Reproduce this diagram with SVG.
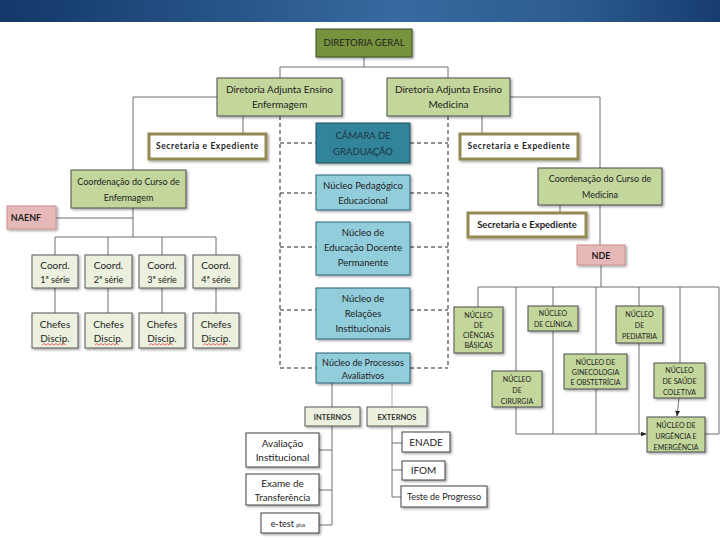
<svg xmlns="http://www.w3.org/2000/svg" width="720" height="540" viewBox="0 0 720 540">
<defs>
<linearGradient id="hdr" x1="0" y1="0" x2="1" y2="0">
<stop offset="0" stop-color="#133769"/>
<stop offset="0.55" stop-color="#376a9f"/>
<stop offset="0.8" stop-color="#2c5b8f"/>
<stop offset="1" stop-color="#173c70"/>
</linearGradient>
<filter id="sh" x="-10%" y="-10%" width="130%" height="140%">
<feDropShadow dx="1.5" dy="1.5" stdDeviation="0.8" flood-color="#000" flood-opacity="0.35"/>
</filter>
<marker id="arr" viewBox="0 0 10 10" refX="9" refY="5" markerWidth="6" markerHeight="6" orient="auto">
<path d="M0,1 L10,5 L0,9 z" fill="#222"/>
</marker>
</defs>
<style>
text{font-family:Lato,"Liberation Sans",sans-serif;fill:#222;text-anchor:middle}
.dg{fill:#77933c;stroke:#3b4a1e;stroke-width:1}
.g{fill:#c3d69b;stroke:#4d4d4d;stroke-width:1}
.lg{fill:#ebf1de;stroke:#595959;stroke-width:1}
.sec{fill:#fff;stroke:#938953;stroke-width:3}
.pk{fill:#e6b9b8;stroke:#c9908e;stroke-width:1}
.cam{fill:#31849b;stroke:#1f4f5e;stroke-width:1}
.bl{fill:#92cddc;stroke:#2d6577;stroke-width:1}
.wh{fill:#fff;stroke:#404040;stroke-width:1}
.t9{font-size:9px}
.t95{font-size:9.5px}
.t10{font-size:10px}
.t7{font-size:7px}
.b{font-weight:bold}
.secs{font-size:8.5px;font-weight:bold;letter-spacing:0.6px}
.ln{fill:none;stroke:#6f6f6f;stroke-width:1}
.ln2{fill:none;stroke:#b0b0b0;stroke-width:1}
.ds{fill:none;stroke:#222;stroke-width:1;stroke-dasharray:4 3}
.sq{fill:none;stroke:#e03030;stroke-width:0.7}
</style>
<rect x="0" y="0" width="720" height="22" fill="url(#hdr)"/>

<g id="connectors">
<path class="ln" d="M364,57 V67 M280,67 H448 M280,67 V78 M448,67 V78"/>
<path class="ln" d="M217,97 H133 V170 M243,116 V133"/>
<path class="ln" d="M510,97 H600 V168 M482,116 V133"/>
<path class="ln" d="M133,208 V237 M56,218 H133 M55,237 H216 M55,237 V255 M108,237 V255 M162,237 V255 M216,237 V255"/>
<path class="ln" d="M55,288 V313 M108,288 V313 M162,288 V313 M216,288 V313"/>
<path class="ln" d="M600,205 V245 M560,205 V212 M601,265 V287"/>
<path class="ln" d="M478,287 H719 M478,287 V307 M516,287 V371 M516,407 V434 M553,287 V434 M596,287 V434 M639,287 V434 M680,287 V363 M719,287 V434 H705"/>
<path class="ln" d="M516,434 H646" marker-end="url(#arr)"/>
<path class="ln" d="M679,398 L677,416" marker-end="url(#arr)"/>
<path class="ds" d="M280,116 V368 M448,116 V368 M280,143 H316 M410,143 H448 M280,193 H316 M410,193 H448 M280,247 H316 M410,247 H448 M280,310 H316 M410,310 H448 M280,368 H316 M410,368 H448"/>
<path class="ln" d="M332,383 V407 M332,426 V525 M319,450 H332 M319,490 H332 M319,525 H332"/>
<path class="ln2" d="M392,383 V407"/>
<path class="ln" d="M392,427 V497 M392,443 H402 M392,470 H402 M392,497 H401"/>
</g>

<g id="diretoria-geral"><rect class="dg" x="316" y="29" width="96" height="28" filter="url(#sh)"/><text class="t95" x="364" y="46">DIRETORIA GERAL</text></g>
<g id="dae-enf"><rect class="g" x="217" y="78" width="125" height="38" filter="url(#sh)"/><text class="t10" x="279.5" y="93">Diretoria Adjunta Ensino</text><text class="t10" x="279.5" y="108">Enfermagem</text></g>
<g id="dae-med"><rect class="g" x="387" y="78" width="123" height="38" filter="url(#sh)"/><text class="t10" x="448.5" y="93">Diretoria Adjunta Ensino</text><text class="t10" x="448.5" y="108">Medicina</text></g>
<g id="sec-enf"><rect class="sec" x="149" y="134" width="117" height="25" filter="url(#sh)"/><text class="secs" x="207.5" y="149">Secretaria e Expediente</text></g>
<g id="sec-med1"><rect class="sec" x="460" y="134" width="118" height="25" filter="url(#sh)"/><text class="secs" x="519" y="149">Secretaria e Expediente</text></g>

<g id="coord-enf"><rect class="g" x="71" y="170" width="115" height="38" filter="url(#sh)"/><text class="t9" x="128.5" y="185">Coordenação do Curso de</text><text class="t9" x="128.5" y="201">Enfermagem</text></g>
<g id="naenf"><rect class="pk" x="7" y="206" width="49" height="23" filter="url(#sh)"/><text class="t9 b" x="26" y="221">NAENF</text></g>

<g id="coord1"><rect class="lg" x="32" y="255" width="46" height="33" filter="url(#sh)"/><text class="t10" x="55" y="269">Coord.</text><text class="t9" x="55" y="283">1ª série</text></g>
<g id="coord2"><rect class="lg" x="85" y="255" width="47" height="33" filter="url(#sh)"/><text class="t10" x="108.5" y="269">Coord.</text><text class="t9" x="108.5" y="283">2ª série</text></g>
<g id="coord3"><rect class="lg" x="139" y="255" width="46" height="33" filter="url(#sh)"/><text class="t10" x="162" y="269">Coord.</text><text class="t9" x="162" y="283">3ª série</text></g>
<g id="coord4"><rect class="lg" x="193" y="255" width="46" height="33" filter="url(#sh)"/><text class="t10" x="216" y="269">Coord.</text><text class="t9" x="216" y="283">4ª série</text></g>

<g id="chefes1"><rect class="lg" x="32" y="313" width="46" height="35" filter="url(#sh)"/><text class="t10" x="55" y="328">Chefes</text><text class="t10" x="55" y="342">Discip.</text><path class="sq" d="M42,345 l2,-1.5 2,1.5 2,-1.5 2,1.5 2,-1.5 2,1.5 2,-1.5 2,1.5 2,-1.5 2,1.5 2,-1.5 2,1.5"/></g>
<g id="chefes2"><rect class="lg" x="85" y="313" width="47" height="35" filter="url(#sh)"/><text class="t10" x="108.5" y="328">Chefes</text><text class="t10" x="108.5" y="342">Discip.</text><path class="sq" d="M95,345 l2,-1.5 2,1.5 2,-1.5 2,1.5 2,-1.5 2,1.5 2,-1.5 2,1.5 2,-1.5 2,1.5 2,-1.5 2,1.5"/></g>
<g id="chefes3"><rect class="lg" x="139" y="313" width="46" height="35" filter="url(#sh)"/><text class="t10" x="162" y="328">Chefes</text><text class="t10" x="162" y="342">Discip.</text><path class="sq" d="M149,345 l2,-1.5 2,1.5 2,-1.5 2,1.5 2,-1.5 2,1.5 2,-1.5 2,1.5 2,-1.5 2,1.5 2,-1.5 2,1.5"/></g>
<g id="chefes4"><rect class="lg" x="193" y="313" width="46" height="35" filter="url(#sh)"/><text class="t10" x="216" y="328">Chefes</text><text class="t10" x="216" y="342">Discip.</text><path class="sq" d="M203,345 l2,-1.5 2,1.5 2,-1.5 2,1.5 2,-1.5 2,1.5 2,-1.5 2,1.5 2,-1.5 2,1.5 2,-1.5 2,1.5"/></g>

<g id="camara"><rect class="cam" x="316" y="123" width="94" height="40" filter="url(#sh)"/><text class="t95" x="363" y="139" style="fill:#1c3440">CÂMARA DE</text><text class="t95" x="363" y="155" style="fill:#1c3440">GRADUAÇÃO</text></g>
<g id="nucleo-pedagogico"><rect class="bl" x="316" y="175" width="94" height="35" filter="url(#sh)"/><text class="t95" x="363" y="189">Núcleo Pedagógico</text><text class="t95" x="363" y="204">Educacional</text></g>
<g id="nucleo-docente"><rect class="bl" x="316" y="222" width="94" height="53" filter="url(#sh)"/><text class="t95" x="363" y="236">Núcleo de</text><text class="t95" x="363" y="251">Educação Docente</text><text class="t95" x="363" y="266">Permanente</text></g>
<g id="nucleo-relacoes"><rect class="bl" x="316" y="288" width="94" height="51" filter="url(#sh)"/><text class="t95" x="363" y="302">Núcleo de</text><text class="t95" x="363" y="317">Relações</text><text class="t95" x="363" y="332">Institucionais</text></g>
<g id="nucleo-processos"><rect class="bl" x="316" y="353" width="94" height="30" filter="url(#sh)"/><text class="t9" x="363" y="366">Núcleo de Processos</text><text class="t9" x="363" y="379">Avaliativos</text></g>

<g id="internos"><rect class="lg" x="305" y="407" width="55" height="19" filter="url(#sh)"/><text class="b" x="332.5" y="420" style="fill:#333;font-size:7.5px">INTERNOS</text></g>
<g id="externos"><rect class="lg" x="367" y="407" width="60" height="19" filter="url(#sh)"/><text class="b" x="397" y="420" style="fill:#333;font-size:7.5px">EXTERNOS</text></g>
<g id="avaliacao"><rect class="wh" x="246" y="433" width="73" height="34" filter="url(#sh)"/><text class="t10" x="282.5" y="447">Avaliação</text><text class="t10" x="282.5" y="461">Institucional</text></g>
<g id="exame"><rect class="wh" x="246" y="474" width="73" height="31" filter="url(#sh)"/><text class="t10" x="282.5" y="487">Exame de</text><text class="t95" x="282.5" y="501">Transferência</text></g>
<g id="etest"><rect class="wh" x="261" y="513" width="58" height="20" filter="url(#sh)"/><text class="t9" x="288" y="527">e-test <tspan style="font-size:5px">plus</tspan></text></g>
<g id="enade"><rect class="wh" x="402" y="432" width="48" height="20" filter="url(#sh)"/><text class="t10" x="426" y="446">ENADE</text></g>
<g id="ifom"><rect class="wh" x="402" y="461" width="43" height="19" filter="url(#sh)"/><text class="t10" x="423.5" y="474">IFOM</text></g>
<g id="teste"><rect class="wh" x="401" y="486" width="86" height="21" filter="url(#sh)"/><text class="t9" x="444" y="500">Teste de Progresso</text></g>

<g id="coord-med"><rect class="g" x="538" y="168" width="124" height="37" filter="url(#sh)"/><text class="t9" x="600" y="182">Coordenação do Curso de</text><text class="t9" x="600" y="198">Medicina</text></g>
<g id="sec-med2"><rect class="sec" x="468" y="213" width="118" height="24" filter="url(#sh)"/><text class="t95 b" x="527" y="228">Secretaria e Expediente</text></g>
<g id="nde"><rect class="pk" x="577" y="245" width="48" height="20" filter="url(#sh)"/><text class="t9 b" x="601" y="259">NDE</text></g>

<g id="n-ciencias"><rect class="g" x="454" y="307" width="49" height="46" filter="url(#sh)"/><text class="t7" x="478.5" y="318">NÚCLEO</text><text class="t7" x="478.5" y="328">DE</text><text class="t7" x="478.5" y="338">CIÊNCIAS</text><text class="t7" x="478.5" y="348">BÁSICAS</text></g>
<g id="n-clinica"><rect class="g" x="528" y="306" width="50" height="25" filter="url(#sh)"/><text class="t7" x="553" y="316">NÚCLEO</text><text class="t7" x="553" y="327">DE CLÍNICA</text></g>
<g id="n-pediatria"><rect class="g" x="616" y="306" width="47" height="37" filter="url(#sh)"/><text class="t7" x="639.5" y="317">NÚCLEO</text><text class="t7" x="639.5" y="328">DE</text><text class="t7" x="639.5" y="339">PEDIATRIA</text></g>
<g id="n-gineco"><rect class="g" x="564" y="354" width="63" height="35" filter="url(#sh)"/><text class="t7" x="595.5" y="365">NÚCLEO DE</text><text class="t7" x="595.5" y="375">GINECOLOGIA</text><text class="t7" x="595.5" y="385">E OBSTETRÍCIA</text></g>
<g id="n-cirurgia"><rect class="g" x="492" y="371" width="50" height="36" filter="url(#sh)"/><text class="t7" x="517" y="382">NÚCLEO</text><text class="t7" x="517" y="393">DE</text><text class="t7" x="517" y="404">CIRURGIA</text></g>
<g id="n-saude"><rect class="g" x="654" y="363" width="51" height="35" filter="url(#sh)"/><text class="t7" x="679.5" y="373">NÚCLEO</text><text class="t7" x="679.5" y="384">DE SAÚDE</text><text class="t7" x="679.5" y="395">COLETIVA</text></g>
<g id="n-urgencia"><rect class="g" x="647" y="417" width="58" height="35" filter="url(#sh)"/><text class="t7" x="676" y="428">NÚCLEO DE</text><text class="t7" x="676" y="439">URGÊNCIA E</text><text class="t7" x="676" y="450">EMERGÊNCIA</text></g>
</svg>
